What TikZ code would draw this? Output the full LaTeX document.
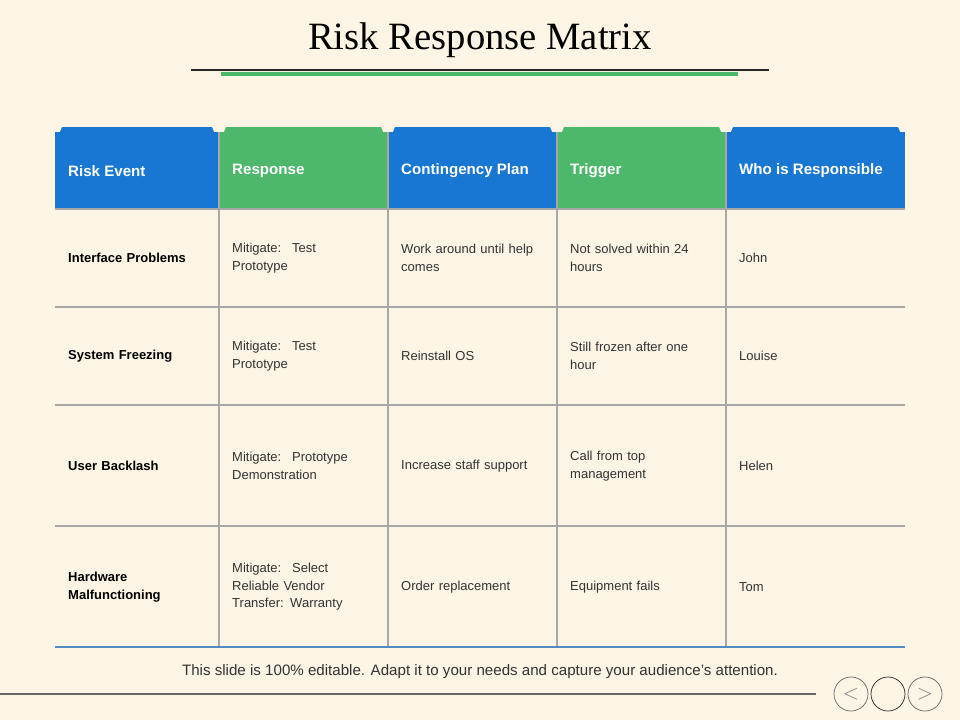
\documentclass[tikz,border=0pt]{standalone}
\usepackage{fontspec}
\setmainfont{Liberation Sans}
\newfontfamily\titlefont{Liberation Serif}
\usetikzlibrary{positioning}
\definecolor{bgcream}{HTML}{FCF5E6}
\definecolor{hblue}{HTML}{1877D2}
\definecolor{hgreen}{HTML}{4DB86C}
\definecolor{grid}{HTML}{A8A8A8}
\definecolor{txt}{HTML}{333333}
\tikzset{
  head/.style={anchor=west,text=white,font=\fontsize{8.6}{10}\selectfont\bfseries},
  first/.style={anchor=west,text=black,font=\fontsize{7.4}{10}\selectfont\bfseries,align=left,text width=2.7cm},
  cell/.style={anchor=west,text=txt,font=\fontsize{7.4}{10}\selectfont,align=left,text width=2.8cm},
  gridline/.style={draw=grid,line width=0.6pt},
  navbtn/.style={draw=black!60,circle,minimum size=0.68cm,inner sep=0pt,text=black!50}
}
\newcommand{\hdr}[4]{% x0, x1, colour, name
  \fill[#3] (#1,132) rectangle (#2,209);
  \fill[#3] (#1+5,132) -- (#1+7,127) -- (#2-7,127) -- (#2-5,132) -- cycle;
}
\begin{document}
\begin{tikzpicture}[x=0.02cm,y=-0.02cm]
  \fill[bgcream] (0,0) rectangle (960,720);
  \useasboundingbox (0,0) rectangle (960,720);

  % title
  \node[font=\titlefont\fontsize{22}{26}\selectfont] (title) at (480,40) {Risk Response Matrix};
  \draw[line width=1.6pt,black!85] (191,70) -- (769,70);
  \fill[hgreen] (221,72) rectangle (738,76);

  % header
  \hdr{55}{219}{hblue}{h1}
  \hdr{219}{388}{hgreen}{h2}
  \hdr{388}{557}{hblue}{h3}
  \hdr{557}{726}{hgreen}{h4}
  \hdr{726}{905}{hblue}{h5}
  \draw[grid,line width=0.8pt] (55,209) -- (905,209);
  \node[head] (c1) at (62,171) {Risk Event};
  \node[head] (c2) at (226,171) {Response};
  \node[head] (c3) at (395,171) {Contingency Plan};
  \node[head] (c4) at (564,171) {Trigger};
  \node[head] (c5) at (733,171) {Who is Responsible};

  % grid
  \foreach \x in {219,388,557,726}
    \draw[gridline] (\x,132) -- (\x,647);
  \foreach \y in {307,405,526}
    \draw[gridline] (55,\y) -- (905,\y);
  \draw[line width=0.8pt,hblue!60!grid] (55,647) -- (905,647);

  % rows
  \node[first] (r1a) at (62,258) {Interface Problems};
  \node[cell] (r1b) at (226,258) {Mitigate:~ Test\\Prototype};
  \node[cell] (r1c) at (395,258) {Work around until help\\comes};
  \node[cell] (r1d) at (564,258) {Not solved within 24\\hours};
  \node[cell] (r1e) at (733,258) {John};

  \node[first] (r2a) at (62,356) {System Freezing};
  \node[cell] (r2b) at (226,356) {Mitigate:~ Test\\Prototype};
  \node[cell] (r2c) at (395,356) {Reinstall OS};
  \node[cell] (r2d) at (564,356) {Still frozen after one\\hour};
  \node[cell] (r2e) at (733,356) {Louise};

  \node[first] (r3a) at (62,466) {User Backlash};
  \node[cell] (r3b) at (226,466) {Mitigate:~ Prototype\\Demonstration};
  \node[cell] (r3c) at (395,466) {Increase staff support};
  \node[cell] (r3d) at (564,466) {Call from top\\management};
  \node[cell] (r3e) at (733,466) {Helen};

  \node[first] (r4a) at (62,587) {Hardware\\Malfunctioning};
  \node[cell] (r4b) at (226,587) {Mitigate:~ Select\\Reliable Vendor\\Transfer: Warranty};
  \node[cell] (r4c) at (395,587) {Order replacement};
  \node[cell] (r4d) at (564,587) {Equipment fails};
  \node[cell] (r4e) at (733,587) {Tom};

  % footer
  \node[text=txt,font=\fontsize{8.6}{10}\selectfont] (foot) at (480,672)
    {This slide is 100\% editable. Adapt it to your needs and capture your audience's attention.};
  \draw[black!60,line width=0.6pt] (0,694) -- (816,694);
  \node[navbtn] (prev) at (851,694) {\large$<$};
  \node[navbtn,draw=black!85] (home) at (888,694) {};
  \node[navbtn] (next) at (925,694) {\large$>$};
\end{tikzpicture}
\end{document}
